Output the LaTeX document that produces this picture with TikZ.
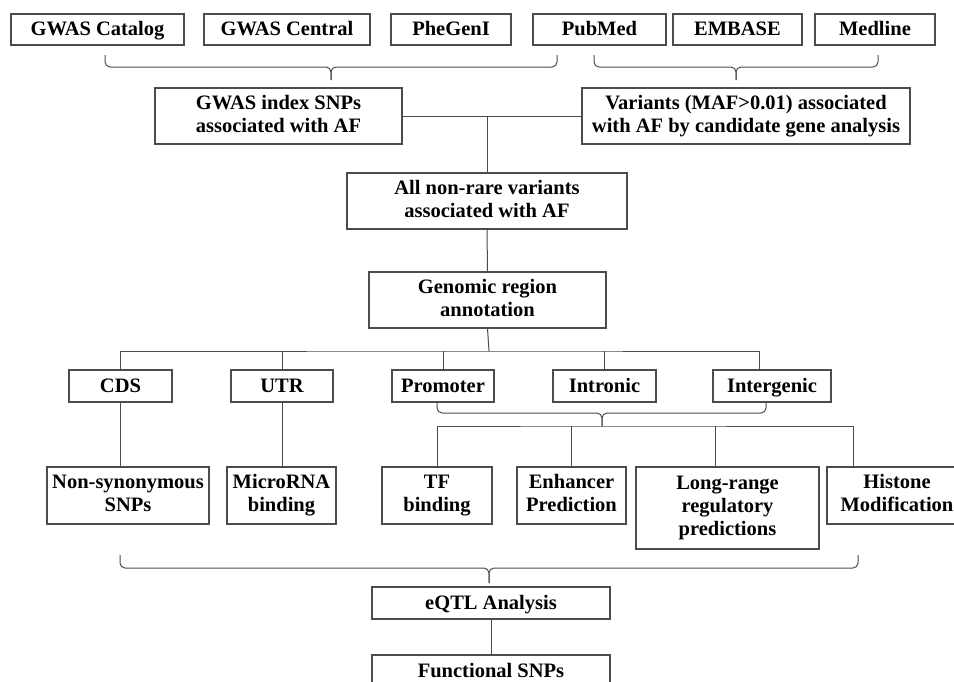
\documentclass[tikz,border=0pt]{standalone}
\usepackage{fontspec}
\setmainfont{Liberation Serif}
\usepackage{tikz}
\usetikzlibrary{positioning,calc}
\definecolor{edgegray}{rgb}{0.3, 0.3, 0.3}
\newcommand{\boxstrut}{\rule[-4.5pt]{0pt}{21.5pt}}

\begin{document}
\begin{tikzpicture}[x=1pt, y=-1pt,
    box/.style={draw=edgegray, line width=1.1pt, fill=white, inner sep=0pt, align=center,
      font=\fontsize{20.5}{23}\selectfont\bfseries,
      execute at begin node=\boxstrut, execute at end node=\boxstrut},
    link/.style={draw=edgegray, line width=1pt},
    bracepath/.style={draw=edgegray, line width=1pt, rounded corners=5pt}]
      \path[use as bounding box, clip] (0, 0) rectangle (954, 681);

      % sources
      \node (catalog) [box, minimum width=173, minimum height=31] at (97.5, 29.5) {GWAS Catalog};
      \node (central) [box, minimum width=166, minimum height=31] at (287, 29.5) {GWAS Central};
      \node (phegeni) [box, minimum width=120, minimum height=31] at (451, 29.5) {PheGenI};
      \node (pubmed) [box, minimum width=133, minimum height=31] at (599.5, 29.5) {PubMed};
      \node (embase) [box, minimum width=129, minimum height=31] at (737.5, 29.5) {EMBASE};
      \node (medline) [box, minimum width=120, minimum height=31] at (875, 29.5) {Medline};

      \node (gwas_snps) [box, minimum width=247, minimum height=56] at (278.5, 116) {GWAS index SNPs\\associated with AF};
      \node (cand_var) [box, minimum width=328, minimum height=56] at (746, 116)
      {Variants (MAF>0.01) associated\\with AF by candidate gene analysis};
      \node (all_var) [box, minimum width=280, minimum height=56] at (487, 201) {All non-rare variants\\associated with AF};
      \node (genomic) [box, minimum width=237, minimum height=56] at (487.5, 300) {Genomic region\\annotation};

      % regions
      \node (cds) [box, minimum width=103, minimum height=32] at (120.5, 386) {CDS};
      \node (utr) [box, minimum width=102, minimum height=32] at (282, 386) {UTR};
      \node (promoter) [box, minimum width=102, minimum height=32] at (443, 386) {Promoter};
      \node (intronic) [box, minimum width=103, minimum height=32] at (604.5, 386) {Intronic};
      \node (intergenic) [box, minimum width=118, minimum height=32] at (772, 386) {Intergenic};

      % predictions
      \node (nonsyn) [box, minimum width=162, minimum height=57] at (128, 495.5) {Non-synonymous\\SNPs};
      \node (mirna) [box, minimum width=109, minimum height=57] at (281.5, 495.5) {MicroRNA\\binding};
      \node (tf) [box, minimum width=110, minimum height=57] at (437, 495.5) {TF\\binding};
      \node (enhancer) [box, minimum width=109, minimum height=57] at (571.5, 495.5) {Enhancer\\Prediction};
      \node (longrange) [box, minimum width=183, minimum height=82] at (727.5, 508) {Long-range\\regulatory\\predictions};
      \node (histone) [box, minimum width=140, minimum height=57] at (897, 495.5) {Histone\\Modification};

      \node (eqtl) [box, minimum width=238, minimum height=32] at (491, 603) {eQTL Analysis};
      \node (functional) [box, minimum width=238, minimum height=32] at (491, 671) {Functional SNPs};

      % braces
      \coordinate (b1_l) at (105, 55);
      \coordinate (b1_r) at (557, 55);
      \coordinate (b1_m) at (331, 67);
      \coordinate (b1_t) at (331, 80);
      \draw [bracepath] (b1_l) |- (b1_m) -- (b1_t);
      \draw [bracepath] (b1_r) |- (b1_m) -- (b1_t);
      \coordinate (b2_l) at (594, 55);
      \coordinate (b2_r) at (878, 55);
      \coordinate (b2_m) at (736, 67);
      \coordinate (b2_t) at (736, 80);
      \draw [bracepath] (b2_l) |- (b2_m) -- (b2_t);
      \draw [bracepath] (b2_r) |- (b2_m) -- (b2_t);

      \draw [link] (gwas_snps.east) -- (cand_var.west);
      \draw [link] (all_var.north) -- (all_var.north |- gwas_snps.east);
      \draw [link] (all_var.south) -- (genomic.north);

      % region bus
      \coordinate (bus1) at (489, 351);
      \coordinate (intg_top) at ($(intergenic.north)+(-13, 0)$);
      \draw [link] (genomic.south) -- (bus1);
      \draw [link] (cds.north) |- (bus1) -| (intg_top);
      \draw [link] (utr.north) -- (utr.north |- bus1);
      \draw [link] (promoter.north) -- (promoter.north |- bus1);
      \draw [link] (intronic.north) -- (intronic.north |- bus1);

      \draw [link] (cds.south) -- (cds.south |- nonsyn.north);
      \draw [link] (utr.south) -- (utr.south |- mirna.north);

      \coordinate (b3_l) at (tf.north |- promoter.south);
      \coordinate (b3_r) at (766, 402);
      \coordinate (b3_m) at (602, 413);
      \coordinate (b3_t) at (602, 426);
      \draw [bracepath] (b3_l) |- (b3_m) -- (b3_t);
      \draw [bracepath] (b3_r) |- (b3_m) -- (b3_t);

      % prediction bus
      \coordinate (his_top) at ($(histone.north)+(-44, 0)$);
      \coordinate (lr_top) at ($(longrange.north)+(-12, 0)$);
      \draw [link] (tf.north) |- (b3_t) -| (his_top);
      \draw [link] (enhancer.north) -- (enhancer.north |- b3_t);
      \draw [link] (lr_top) -- (lr_top |- b3_t);

      \coordinate (b4_l) at (120, 555);
      \coordinate (b4_r) at (858, 555);
      \coordinate (b4_m) at (489, 568);
      \coordinate (b4_t) at (489, 583);
      \draw [bracepath] (b4_l) |- (b4_m) -- (b4_t);
      \draw [bracepath] (b4_r) |- (b4_m) -- (b4_t);

      \draw [link] (eqtl.south) -- (functional.north);
\end{tikzpicture}
\end{document}
